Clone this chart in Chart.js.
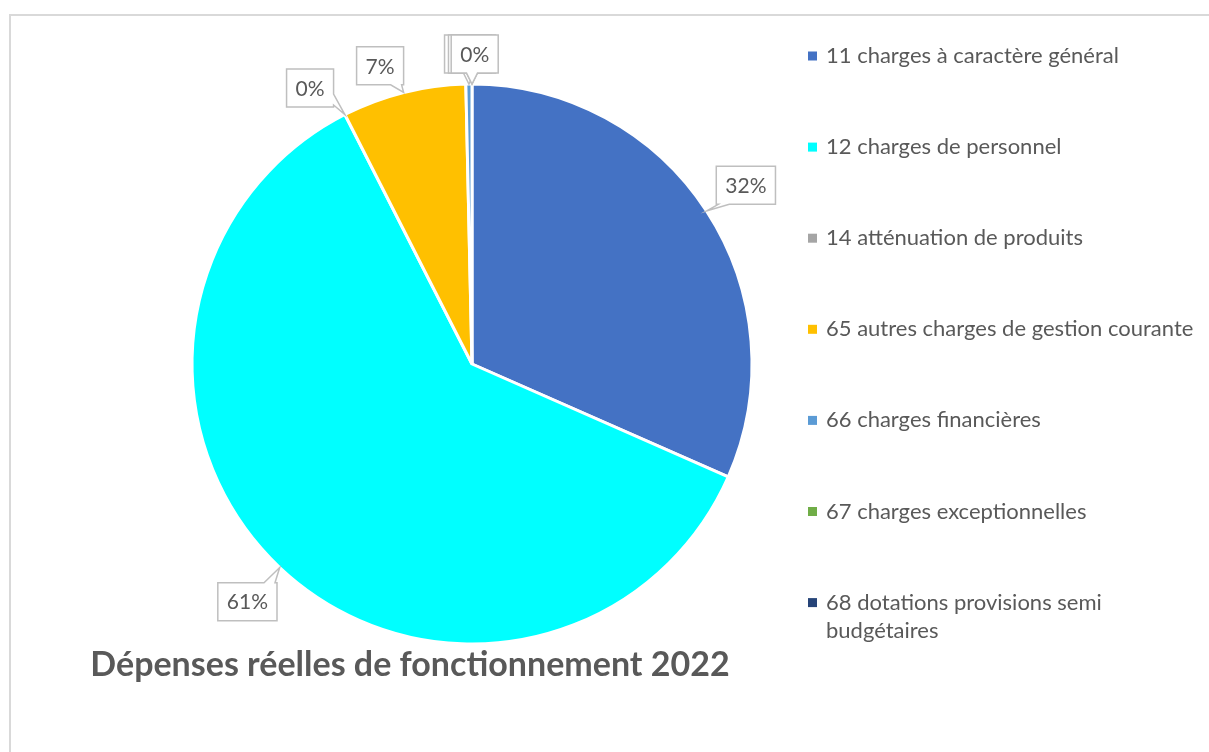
<!DOCTYPE html>
<html><head><meta charset="utf-8">
<script src="https://cdn.jsdelivr.net/npm/chart.js@4.4.0/dist/chart.umd.min.js"></script>
<style>html,body{margin:0;padding:0;background:#fff;}#wrap{width:1209px;height:752px;}</style>
</head><body><div id="wrap"><canvas id="c" width="1209" height="752"></canvas></div>
<script>
const categories = [
  '11 charges à caractère général',
  '12 charges de personnel',
  '14 atténuation de produits',
  '65 autres charges de gestion courante',
  '66 charges financières',
  '67 charges exceptionnelles',
  '68 dotations provisions semi budgétaires'
];
const values = [31.6, 60.9, 0, 7.15, 0.35, 0, 0];
const colors = ['#4472C4', '#00FFFF', '#A5A5A5', '#FFC000', '#5B9BD5', '#70AD47', '#264478'];
const chartTitle = 'Dépenses réelles de fonctionnement 2022';

const FONT = 'Lato, "Open Sans", sans-serif';
const TEXT = '#595959';

function clamp(v, a, b) { return Math.max(a, Math.min(b, v)); }

function drawCallout(ctx, cx, cy, w, h, tx, ty) {
  const L = cx - w / 2, R = cx + w / 2, T = cy - h / 2, B = cy + h / 2;
  const dx = tx - cx, dy = ty - cy;
  let side;
  if (Math.abs(dx) / (w / 2) > Math.abs(dy) / (h / 2)) side = dx < 0 ? 'left' : 'right';
  else side = dy < 0 ? 'top' : 'bottom';
  const bw = 11, m = 2;
  ctx.beginPath();
  ctx.moveTo(L, T);
  if (side === 'top') { const p = clamp(tx, L + m + bw / 2, R - m - bw / 2); ctx.lineTo(p - bw / 2, T); ctx.lineTo(tx, ty); ctx.lineTo(p + bw / 2, T); }
  ctx.lineTo(R, T);
  if (side === 'right') { const p = clamp(ty, T + m + bw / 2, B - m - bw / 2); ctx.lineTo(R, p - bw / 2); ctx.lineTo(tx, ty); ctx.lineTo(R, p + bw / 2); }
  ctx.lineTo(R, B);
  if (side === 'bottom') { const p = clamp(tx, L + m + bw / 2, R - m - bw / 2); ctx.lineTo(p + bw / 2, B); ctx.lineTo(tx, ty); ctx.lineTo(p - bw / 2, B); }
  ctx.lineTo(L, B);
  if (side === 'left') { const p = clamp(ty, T + m + bw / 2, B - m - bw / 2); ctx.lineTo(L, p + bw / 2); ctx.lineTo(tx, ty); ctx.lineTo(L, p - bw / 2); }
  ctx.closePath();
  ctx.fillStyle = '#fff';
  ctx.fill();
  ctx.stroke();
}

const decorPlugin = {
  id: 'decor',
  beforeDraw(chart) {
    const ctx = chart.ctx;
    ctx.save();
    ctx.strokeStyle = '#d9d9d9';
    ctx.lineWidth = 2;
    ctx.strokeRect(10, 15, 1400, 900);
    ctx.restore();
  },
  afterDraw(chart, args, opts) {
    const ctx = chart.ctx;
    ctx.save();
    // legend
    ctx.font = '22px ' + FONT;
    ctx.textBaseline = 'middle';
    ctx.textAlign = 'left';
    const ds = chart.data.datasets[0];
    chart.data.labels.forEach((lab, i) => {
      const y = opts.legendTop + i * opts.legendStep;
      ctx.fillStyle = ds.backgroundColor[i];
      ctx.fillRect(opts.legendX, y - 4.5, 9, 9);
      ctx.fillStyle = TEXT;
      const words = lab.split(' ');
      let line = '', lines = [];
      words.forEach(wd => {
        const t = line ? line + ' ' + wd : wd;
        if (ctx.measureText(t).width > opts.legendMaxW && line) { lines.push(line); line = wd; }
        else line = t;
      });
      lines.push(line);
      lines.forEach((ln, k) => ctx.fillText(ln, opts.legendX + 18, y + k * 28));
    });
    // title
    ctx.font = 'bold 34px ' + FONT;
    ctx.textAlign = 'center';
    ctx.textBaseline = 'alphabetic';
    ctx.fillStyle = TEXT;
    ctx.fillText(chart.data.datasets[0].label, opts.titleX, opts.titleY);
    // data labels
    const meta = chart.getDatasetMeta(0);
    const total = ds.data.reduce((a, b) => a + b, 0);
    ctx.font = '21px ' + FONT;
    ctx.textAlign = 'center';
    ctx.textBaseline = 'middle';
    ctx.strokeStyle = '#bfbfbf';
    ctx.lineWidth = 1.5;
    ctx.lineJoin = 'miter';
    meta.data.forEach((arc, i) => {
      const p = arc.getProps(['x', 'y', 'startAngle', 'endAngle', 'outerRadius'], true);
      const mid = (p.startAngle + p.endAngle) / 2;
      const txt = Math.round(ds.data[i] / total * 100) + '%';
      const tx = p.x + Math.cos(mid) * p.outerRadius;
      const ty = p.y + Math.sin(mid) * p.outerRadius;
      const a = mid + (opts.nudge[i] || 0) * Math.PI / 180;
      const d = p.outerRadius + opts.dist[i];
      const cx = p.x + Math.cos(a) * d, cy = p.y + Math.sin(a) * d;
      const w = ctx.measureText(txt).width + 18, h = 38;
      drawCallout(ctx, cx, cy, w, h, tx, ty);
      ctx.fillStyle = TEXT;
      ctx.fillText(txt, cx, cy + 1);
    });
    ctx.restore();
  }
};

new Chart(document.getElementById('c'), {
  type: 'pie',
  data: {
    labels: categories,
    datasets: [{
      label: chartTitle,
      data: values,
      backgroundColor: colors,
      borderColor: '#ffffff',
      borderWidth: 3,
      hoverOffset: 0,
      offset: 0,
      radius: 280
    }]
  },
  options: {
    responsive: false,
    animation: false,
    devicePixelRatio: 1,
    layout: { padding: { left: 192, right: 457, top: 84, bottom: 108 } },
    plugins: {
      legend: { display: false },
      tooltip: { enabled: false },
      decor: {
        legendX: 808, legendTop: 56, legendStep: 91.1, legendMaxW: 376,
        titleX: 410, titleY: 676,
        nudge: [0, 0, -3.4, -3, -0.1, 0, 0.5],
        dist: [47, 47, 40, 32, 30, 30, 30]
      }
    }
  },
  plugins: [decorPlugin]
});
</script></body></html>
